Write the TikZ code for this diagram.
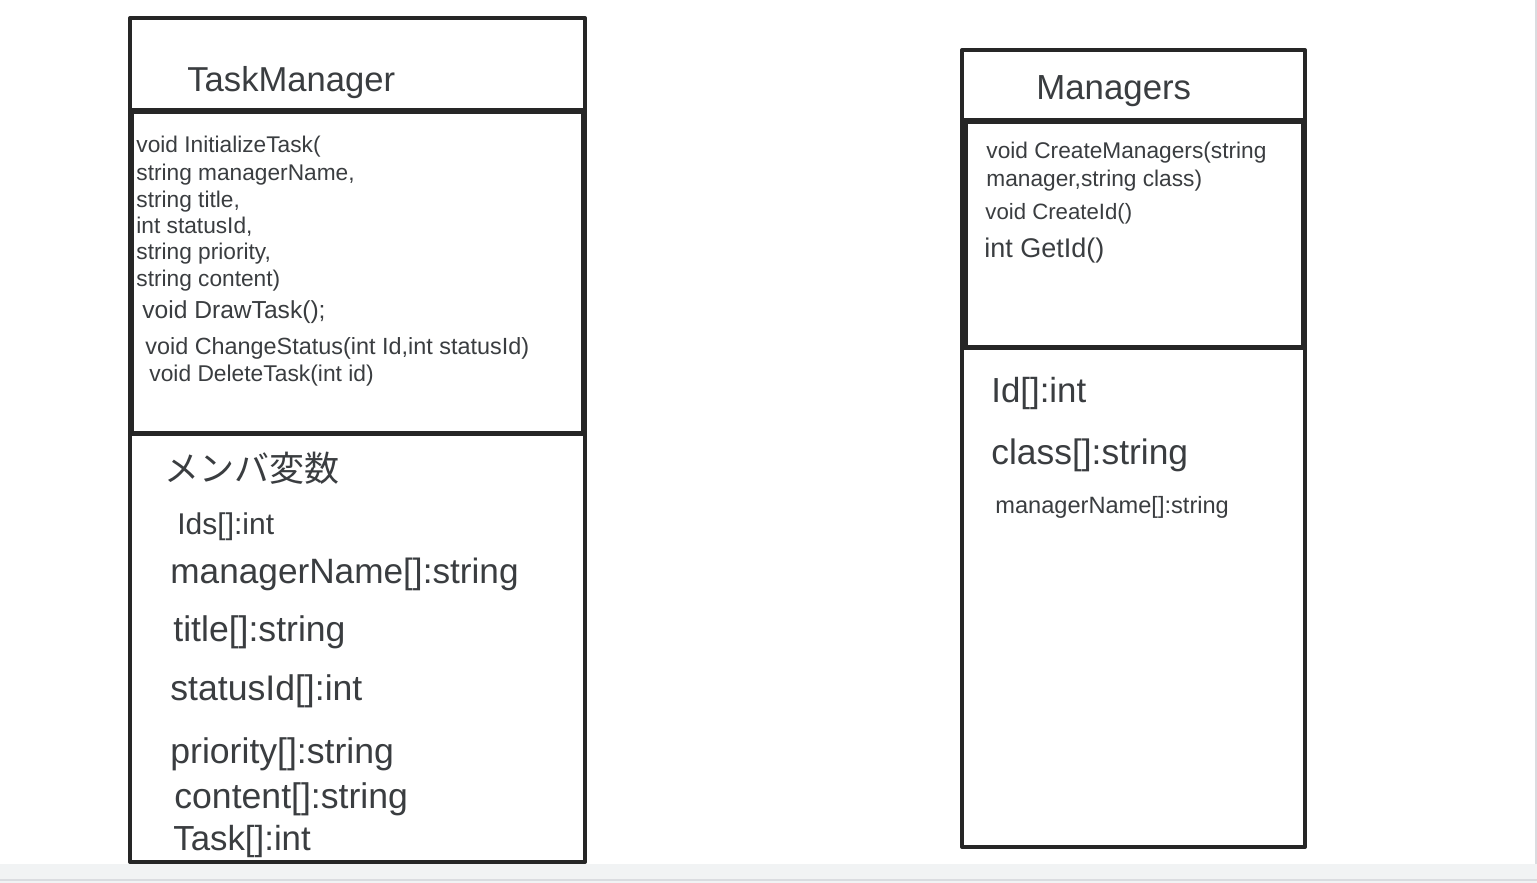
\documentclass[tikz,border=0pt]{standalone}
\usepackage{fontspec}
\setmainfont{Liberation Sans}
\newfontfamily\cjk{Noto Sans CJK JP}
\definecolor{boxline}{HTML}{262626}
\definecolor{txt}{HTML}{3A3D40}
\definecolor{band}{HTML}{F1F3F4}
\definecolor{bandline}{HTML}{DADCE0}
\begin{document}
\begin{tikzpicture}[x=0.5pt,y=-0.5pt,
  boxl/.style={draw=boxline,line width=2pt,line join=round},
  lbl/.style={anchor=base west,inner sep=0pt,text=txt},
  fs/.style={font=\fontsize{#1}{#1}\selectfont}]
\useasboundingbox (0,0) rectangle (1537,883);
\fill[white] (0,0) rectangle (1537,883);
% bottom band and right edge
\fill[band] (0,864) rectangle (1537,883);
\draw[bandline,line width=0.75pt] (0,880) -- (1537,880);
\draw[bandline,line width=0.6pt] (1536,0) -- (1536,864);

% ---- TaskManager class ----
\draw[boxl] (130,18) rectangle (585,862);
\draw[boxl] (132,112) rectangle (583,433);
\draw[boxl] (130,110) -- (585,110);
\draw[boxl] (130,434) -- (585,434);

\node[lbl,fs=17.3pt] (tmname) at (187,92) {TaskManager};
\node[lbl,fs=11.35pt] (m1) at (136,153) {void InitializeTask(};
\node[lbl,fs=11.35pt] (m2) at (136,180) {string managerName,};
\node[lbl,fs=11.35pt] (m3) at (136,207) {string title,};
\node[lbl,fs=11.35pt] (m4) at (136,233) {int statusId,};
\node[lbl,fs=11.35pt] (m5) at (136,259) {string priority,};
\node[lbl,fs=11.35pt] (m6) at (136,286) {string content)};
\node[lbl,fs=12.3pt] (m7) at (142,318) {void DrawTask();};
\node[lbl,fs=11.7pt] (m8) at (145,354) {void ChangeStatus(int Id,int statusId)};
\node[lbl,fs=11.4pt] (m9) at (149,381) {void DeleteTask(int id)};

\node[lbl,fs=17.5pt,font=\cjk\fontsize{17.5pt}{17.5pt}\selectfont] (a0) at (164,481) {メンバ変数};
\node[lbl,fs=15pt] (a1) at (177,534) {Ids[]:int};
\node[lbl,fs=17.6pt] (a2) at (170,583) {managerName[]:string};
\node[lbl,fs=17.8pt] (a3) at (173,641) {title[]:string};
\node[lbl,fs=17.8pt] (a4) at (170,700) {statusId[]:int};
\node[lbl,fs=17.8pt] (a5) at (170,763) {priority[]:string};
\node[lbl,fs=17.8pt] (a6) at (174,808) {content[]:string};
\node[lbl,fs=17.4pt] (a7) at (173,850) {Task[]:int};

% ---- Managers class ----
\draw[boxl] (962,50) rectangle (1305,847);
\draw[boxl] (966,122) rectangle (1303,347);
\draw[boxl] (962,120) -- (1305,120);
\draw[boxl] (962,348) -- (1305,348);

\node[lbl,fs=17.4pt] (mgname) at (1036,100) {Managers};
\node[lbl,fs=11.35pt] (n1) at (986,159) {void CreateManagers(string};
\node[lbl,fs=11.35pt] (n2) at (986,186) {manager,string class)};
\node[lbl,fs=11.1pt] (n3) at (985,220) {void CreateId()};
\node[lbl,fs=13.5pt] (n4) at (984,257) {int GetId()};
\node[lbl,fs=17.4pt] (b1) at (991,402) {Id[]:int};
\node[lbl,fs=17.7pt] (b2) at (991,464) {class[]:string};
\node[lbl,fs=11.8pt] (b3) at (995,513) {managerName[]:string};
\end{tikzpicture}
\end{document}
